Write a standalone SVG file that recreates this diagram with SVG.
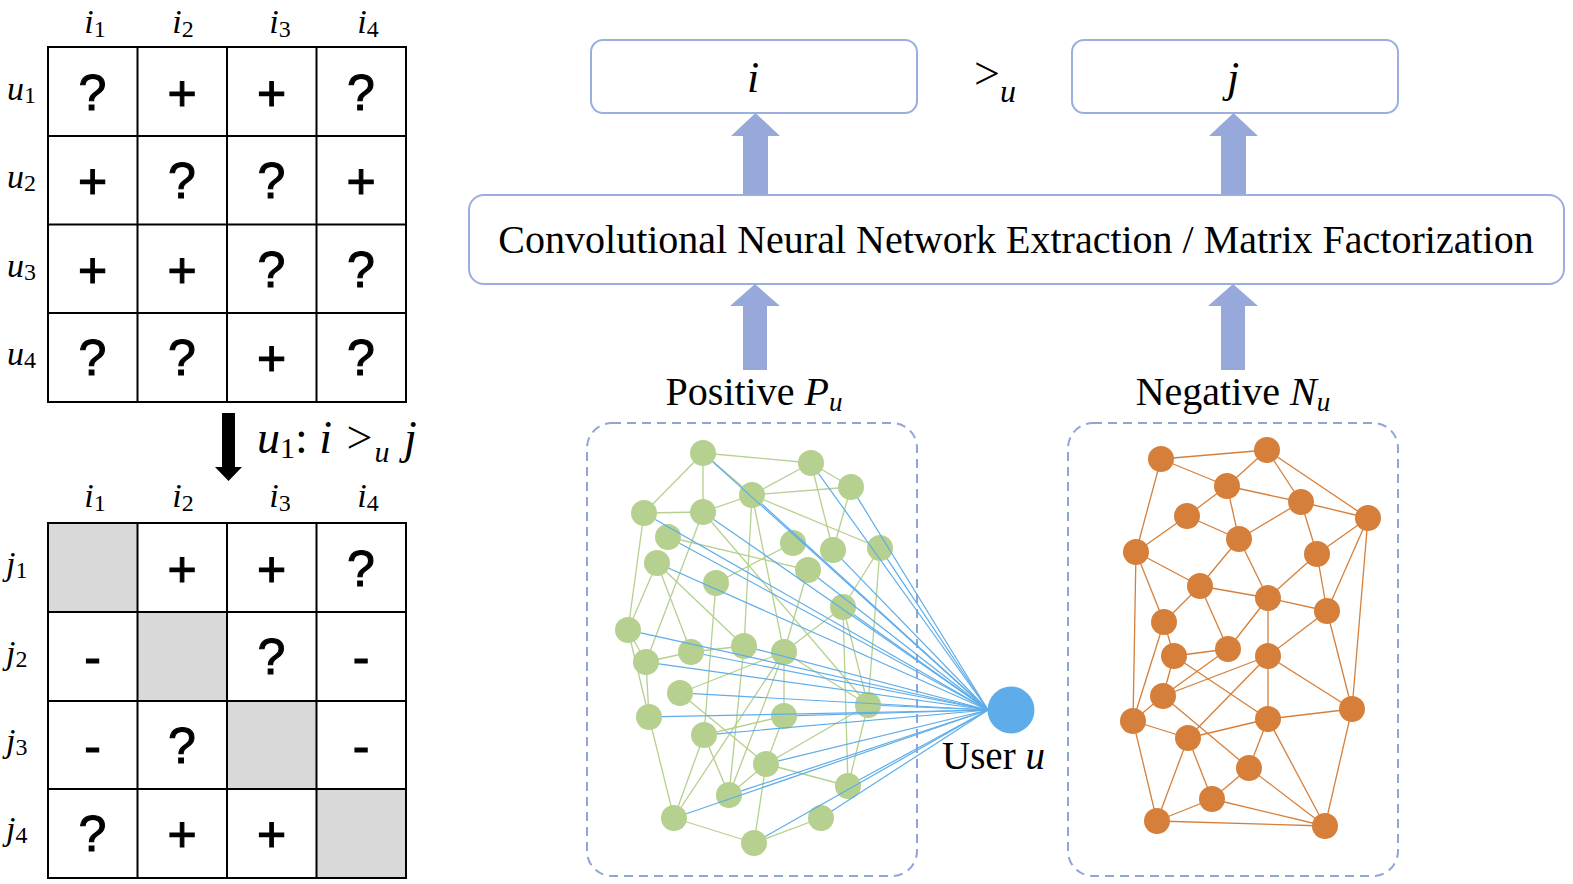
<svg xmlns="http://www.w3.org/2000/svg" width="1573" height="884" viewBox="0 0 1573 884">
<defs>
<style>
.serif{font-family:"Liberation Serif","Times New Roman",serif;fill:#000}
.it{font-style:italic}
.cell{font-family:"Liberation Sans",Arial,sans-serif;font-size:50px;text-anchor:middle;fill:#000;stroke:#000;stroke-width:1.1}
.grid{fill:none;stroke:#000;stroke-width:2}
.gray{fill:#D9D9D9}
.box{fill:#fff;stroke:#9AAEE0;stroke-width:2}
.dash{fill:none;stroke:#8FA5D8;stroke-width:2;stroke-dasharray:9 6}
.arrow{fill:#97A9DB}
.ge{stroke:#B5D08F;stroke-width:1.3}
.oe{stroke:#D67F3A;stroke-width:1.3}
.be{stroke:#5EADEA;stroke-width:1.2}
.gn{fill:#B5D08F}
.on{fill:#D67F3A}
</style>
</defs>
<rect width="1573" height="884" fill="#fff"/>

<!-- Top matrix -->
<g id="matrix-top">
<g class="serif" font-size="34">
<text x="95" y="33" text-anchor="middle"><tspan class="it">i</tspan><tspan font-size="24" dy="4">1</tspan></text>
<text x="183" y="33" text-anchor="middle"><tspan class="it">i</tspan><tspan font-size="24" dy="4">2</tspan></text>
<text x="280" y="33" text-anchor="middle"><tspan class="it">i</tspan><tspan font-size="24" dy="4">3</tspan></text>
<text x="368" y="33" text-anchor="middle"><tspan class="it">i</tspan><tspan font-size="24" dy="4">4</tspan></text>
<text x="7" y="100"><tspan class="it">u</tspan><tspan font-size="24" dy="3">1</tspan></text>
<text x="7" y="188"><tspan class="it">u</tspan><tspan font-size="24" dy="3">2</tspan></text>
<text x="7" y="277"><tspan class="it">u</tspan><tspan font-size="24" dy="3">3</tspan></text>
<text x="7" y="365"><tspan class="it">u</tspan><tspan font-size="24" dy="3">4</tspan></text>
</g>
<rect class="grid" x="48" y="47" width="358" height="355"/>
<path class="grid" d="M137.5 47V402M227 47V402M316.5 47V402M48 136H406M48 224.5H406M48 313H406"/>
<g class="cell">
<text x="92.5" y="110">?</text><text x="182" y="110">+</text><text x="271.5" y="110">+</text><text x="361" y="110">?</text>
<text x="92.5" y="198">+</text><text x="182" y="198">?</text><text x="271.5" y="198">?</text><text x="361" y="198">+</text>
<text x="92.5" y="287">+</text><text x="182" y="287">+</text><text x="271.5" y="287">?</text><text x="361" y="287">?</text>
<text x="92.5" y="375">?</text><text x="182" y="375">?</text><text x="271.5" y="375">+</text><text x="361" y="375">?</text>
</g>
</g>

<!-- Transform arrow -->
<g id="transform-arrow">
<polygon points="222,413 235,413 235,467 242,467 228.5,481 215,467 222,467" fill="#000"/>
<text class="serif" x="257" y="453" font-size="46"><tspan class="it">u</tspan><tspan font-size="30" dy="5">1</tspan><tspan dy="-5">: </tspan><tspan class="it">i</tspan><tspan dx="3"> &gt;</tspan><tspan class="it" font-size="30" dy="9" dx="2">u</tspan><tspan class="it" dy="-9" dx="3"> j</tspan></text>
</g>

<!-- Bottom matrix -->
<g id="matrix-bottom">
<g class="serif" font-size="34">
<text x="95" y="507" text-anchor="middle"><tspan class="it">i</tspan><tspan font-size="24" dy="4">1</tspan></text>
<text x="183" y="507" text-anchor="middle"><tspan class="it">i</tspan><tspan font-size="24" dy="4">2</tspan></text>
<text x="280" y="507" text-anchor="middle"><tspan class="it">i</tspan><tspan font-size="24" dy="4">3</tspan></text>
<text x="368" y="507" text-anchor="middle"><tspan class="it">i</tspan><tspan font-size="24" dy="4">4</tspan></text>
<text x="6" y="575"><tspan class="it">j</tspan><tspan font-size="24" dy="3">1</tspan></text>
<text x="6" y="664"><tspan class="it">j</tspan><tspan font-size="24" dy="3">2</tspan></text>
<text x="6" y="752"><tspan class="it">j</tspan><tspan font-size="24" dy="3">3</tspan></text>
<text x="6" y="840"><tspan class="it">j</tspan><tspan font-size="24" dy="3">4</tspan></text>
</g>
<rect class="gray" x="48" y="523" width="89.5" height="89"/>
<rect class="gray" x="137.5" y="612" width="89.5" height="89"/>
<rect class="gray" x="227" y="701" width="89.5" height="88"/>
<rect class="gray" x="316.5" y="789" width="89.5" height="89"/>
<rect class="grid" x="48" y="523" width="358" height="355"/>
<path class="grid" d="M137.5 523V878M227 523V878M316.5 523V878M48 612H406M48 701H406M48 789H406"/>
<g class="cell">
<text x="182" y="586">+</text><text x="271.5" y="586">+</text><text x="361" y="586">?</text>
<text x="92.5" y="674">-</text><text x="271.5" y="674">?</text><text x="361" y="674">-</text>
<text x="92.5" y="763">-</text><text x="182" y="763">?</text><text x="361" y="763">-</text>
<text x="92.5" y="851">?</text><text x="182" y="851">+</text><text x="271.5" y="851">+</text>
</g>
</g>

<!-- Top boxes -->
<g id="box-i">
<rect class="box" x="591" y="40" width="326" height="73" rx="12"/>
<text class="serif it" x="753" y="92" font-size="44" text-anchor="middle">i</text>
</g>
<g id="pref-symbol">
<text class="serif" x="974" y="89" font-size="46">&gt;<tspan class="it" font-size="32" dy="13">u</tspan></text>
</g>
<g id="box-j">
<rect class="box" x="1072" y="40" width="326" height="73" rx="12"/>
<text class="serif it" x="1233" y="92" font-size="44" text-anchor="middle">j</text>
</g>

<g id="box-cnn">
<rect class="box" x="469" y="195" width="1095" height="89" rx="15"/>
<text class="serif" x="1016" y="253" font-size="40" text-anchor="middle">Convolutional Neural Network Extraction / Matrix Factorization</text>
</g>

<!-- Fat arrows -->
<g id="arrows">
<polygon class="arrow" points="743,194 768,194 768,136 780,136 755.5,113 731,136 743,136"/>
<polygon class="arrow" points="1221,194 1246,194 1246,136 1258,136 1233.5,113 1209,136 1221,136"/>
<polygon class="arrow" points="743,370 767,370 767,306 780,306 755,284 730,306 743,306"/>
<polygon class="arrow" points="1221,370 1245,370 1245,306 1258,306 1233,284 1208,306 1221,306"/>
</g>

<g id="label-positive">
<text class="serif" x="754" y="405" font-size="40" text-anchor="middle">Positive <tspan class="it">P</tspan><tspan class="it" font-size="27" dy="6">u</tspan></text>
</g>
<g id="label-negative">
<text class="serif" x="1233" y="405" font-size="40" text-anchor="middle">Negative <tspan class="it">N</tspan><tspan class="it" font-size="27" dy="6">u</tspan></text>
</g>

<!-- Dashed containers -->
<g id="positive-set">
<rect class="dash" x="587" y="423" width="330" height="453" rx="25"/>
</g>
<g id="negative-set">
<rect class="dash" x="1068" y="423" width="330" height="453" rx="25"/>
</g>

<!-- Graph edges -->
<g id="connectors">
<g class="ge">
<line x1="703" y1="453" x2="811" y2="463"/>
<line x1="703" y1="453" x2="644" y2="513"/>
<line x1="703" y1="453" x2="703" y2="512"/>
<line x1="703" y1="453" x2="752" y2="495"/>
<line x1="811" y1="463" x2="752" y2="495"/>
<line x1="811" y1="463" x2="833" y2="550"/>
<line x1="811" y1="463" x2="851" y2="487"/>
<line x1="851" y1="487" x2="752" y2="495"/>
<line x1="851" y1="487" x2="833" y2="550"/>
<line x1="752" y1="495" x2="703" y2="512"/>
<line x1="752" y1="495" x2="880" y2="548"/>
<line x1="752" y1="495" x2="744" y2="646"/>
<line x1="752" y1="495" x2="784" y2="652"/>
<line x1="644" y1="513" x2="703" y2="512"/>
<line x1="644" y1="513" x2="628" y2="630"/>
<line x1="703" y1="512" x2="646" y2="662"/>
<line x1="703" y1="512" x2="868" y2="705"/>
<line x1="668" y1="537" x2="808" y2="570"/>
<line x1="657" y1="563" x2="628" y2="630"/>
<line x1="657" y1="563" x2="691" y2="652"/>
<line x1="657" y1="563" x2="744" y2="646"/>
<line x1="716" y1="583" x2="793" y2="543"/>
<line x1="716" y1="583" x2="704" y2="735"/>
<line x1="808" y1="570" x2="784" y2="652"/>
<line x1="843" y1="607" x2="784" y2="652"/>
<line x1="843" y1="607" x2="848" y2="786"/>
<line x1="843" y1="607" x2="868" y2="705"/>
<line x1="880" y1="548" x2="843" y2="607"/>
<line x1="880" y1="548" x2="868" y2="705"/>
<line x1="628" y1="630" x2="646" y2="662"/>
<line x1="628" y1="630" x2="649" y2="717"/>
<line x1="646" y1="662" x2="649" y2="717"/>
<line x1="646" y1="662" x2="691" y2="652"/>
<line x1="691" y1="652" x2="744" y2="646"/>
<line x1="744" y1="646" x2="729" y2="795"/>
<line x1="784" y1="652" x2="784" y2="716"/>
<line x1="784" y1="652" x2="868" y2="705"/>
<line x1="784" y1="652" x2="674" y2="818"/>
<line x1="784" y1="652" x2="729" y2="795"/>
<line x1="680" y1="693" x2="784" y2="652"/>
<line x1="680" y1="693" x2="766" y2="764"/>
<line x1="649" y1="717" x2="674" y2="818"/>
<line x1="784" y1="716" x2="704" y2="735"/>
<line x1="784" y1="716" x2="766" y2="764"/>
<line x1="868" y1="705" x2="766" y2="764"/>
<line x1="704" y1="735" x2="674" y2="818"/>
<line x1="704" y1="735" x2="729" y2="795"/>
<line x1="766" y1="764" x2="729" y2="795"/>
<line x1="766" y1="764" x2="848" y2="786"/>
<line x1="766" y1="764" x2="754" y2="843"/>
<line x1="848" y1="786" x2="868" y2="705"/>
<line x1="674" y1="818" x2="754" y2="843"/>
<line x1="754" y1="843" x2="821" y2="818"/>
</g>
<g class="oe">
<line x1="1161" y1="459" x2="1267" y2="450"/>
<line x1="1161" y1="459" x2="1227" y2="486"/>
<line x1="1161" y1="459" x2="1136" y2="552"/>
<line x1="1227" y1="486" x2="1267" y2="450"/>
<line x1="1267" y1="450" x2="1301" y2="502"/>
<line x1="1267" y1="450" x2="1368" y2="518"/>
<line x1="1227" y1="486" x2="1301" y2="502"/>
<line x1="1227" y1="486" x2="1187" y2="516"/>
<line x1="1227" y1="486" x2="1239" y2="539"/>
<line x1="1301" y1="502" x2="1368" y2="518"/>
<line x1="1301" y1="502" x2="1239" y2="539"/>
<line x1="1301" y1="502" x2="1317" y2="554"/>
<line x1="1187" y1="516" x2="1136" y2="552"/>
<line x1="1187" y1="516" x2="1239" y2="539"/>
<line x1="1368" y1="518" x2="1317" y2="554"/>
<line x1="1368" y1="518" x2="1327" y2="611"/>
<line x1="1368" y1="518" x2="1352" y2="709"/>
<line x1="1239" y1="539" x2="1200" y2="586"/>
<line x1="1239" y1="539" x2="1268" y2="598"/>
<line x1="1136" y1="552" x2="1200" y2="586"/>
<line x1="1136" y1="552" x2="1164" y2="622"/>
<line x1="1136" y1="552" x2="1133" y2="721"/>
<line x1="1317" y1="554" x2="1268" y2="598"/>
<line x1="1317" y1="554" x2="1327" y2="611"/>
<line x1="1200" y1="586" x2="1268" y2="598"/>
<line x1="1200" y1="586" x2="1164" y2="622"/>
<line x1="1200" y1="586" x2="1228" y2="649"/>
<line x1="1268" y1="598" x2="1327" y2="611"/>
<line x1="1268" y1="598" x2="1228" y2="649"/>
<line x1="1268" y1="598" x2="1268" y2="656"/>
<line x1="1327" y1="611" x2="1268" y2="656"/>
<line x1="1327" y1="611" x2="1352" y2="709"/>
<line x1="1164" y1="622" x2="1174" y2="656"/>
<line x1="1164" y1="622" x2="1133" y2="721"/>
<line x1="1228" y1="649" x2="1174" y2="656"/>
<line x1="1228" y1="649" x2="1163" y2="696"/>
<line x1="1174" y1="656" x2="1163" y2="696"/>
<line x1="1174" y1="656" x2="1268" y2="719"/>
<line x1="1268" y1="656" x2="1163" y2="696"/>
<line x1="1268" y1="656" x2="1268" y2="719"/>
<line x1="1268" y1="656" x2="1352" y2="709"/>
<line x1="1268" y1="656" x2="1188" y2="738"/>
<line x1="1163" y1="696" x2="1133" y2="721"/>
<line x1="1163" y1="696" x2="1249" y2="768"/>
<line x1="1133" y1="721" x2="1188" y2="738"/>
<line x1="1133" y1="721" x2="1157" y2="821"/>
<line x1="1268" y1="719" x2="1352" y2="709"/>
<line x1="1268" y1="719" x2="1188" y2="738"/>
<line x1="1268" y1="719" x2="1249" y2="768"/>
<line x1="1268" y1="719" x2="1325" y2="826"/>
<line x1="1352" y1="709" x2="1325" y2="826"/>
<line x1="1188" y1="738" x2="1212" y2="799"/>
<line x1="1188" y1="738" x2="1157" y2="821"/>
<line x1="1249" y1="768" x2="1212" y2="799"/>
<line x1="1249" y1="768" x2="1325" y2="826"/>
<line x1="1212" y1="799" x2="1325" y2="826"/>
<line x1="1212" y1="799" x2="1157" y2="821"/>
<line x1="1157" y1="821" x2="1325" y2="826"/>
</g>
</g>

<!-- Positive (green) nodes -->
<g id="positive-nodes" class="gn">
<circle cx="703" cy="453" r="13"/><circle cx="811" cy="463" r="13"/><circle cx="851" cy="487" r="13"/>
<circle cx="752" cy="495" r="13"/><circle cx="644" cy="513" r="13"/><circle cx="703" cy="512" r="13"/>
<circle cx="668" cy="537" r="13"/><circle cx="793" cy="543" r="13"/><circle cx="833" cy="550" r="13"/>
<circle cx="880" cy="548" r="13"/><circle cx="657" cy="563" r="13"/><circle cx="808" cy="570" r="13"/>
<circle cx="716" cy="583" r="13"/><circle cx="843" cy="607" r="13"/><circle cx="628" cy="630" r="13"/>
<circle cx="744" cy="646" r="13"/><circle cx="646" cy="662" r="13"/><circle cx="691" cy="652" r="13"/>
<circle cx="784" cy="652" r="13"/><circle cx="680" cy="693" r="13"/><circle cx="649" cy="717" r="13"/>
<circle cx="784" cy="716" r="13"/><circle cx="868" cy="705" r="13"/><circle cx="704" cy="735" r="13"/>
<circle cx="766" cy="764" r="13"/><circle cx="729" cy="795" r="13"/><circle cx="848" cy="786" r="13"/>
<circle cx="674" cy="818" r="13"/><circle cx="821" cy="818" r="13"/><circle cx="754" cy="843" r="13"/>
</g>

<!-- Negative (orange) nodes -->
<g id="negative-nodes" class="on">
<circle cx="1161" cy="459" r="13"/><circle cx="1267" cy="450" r="13"/><circle cx="1227" cy="486" r="13"/>
<circle cx="1301" cy="502" r="13"/><circle cx="1368" cy="518" r="13"/><circle cx="1187" cy="516" r="13"/>
<circle cx="1239" cy="539" r="13"/><circle cx="1136" cy="552" r="13"/><circle cx="1317" cy="554" r="13"/>
<circle cx="1200" cy="586" r="13"/><circle cx="1268" cy="598" r="13"/><circle cx="1327" cy="611" r="13"/>
<circle cx="1164" cy="622" r="13"/><circle cx="1228" cy="649" r="13"/><circle cx="1174" cy="656" r="13"/>
<circle cx="1268" cy="656" r="13"/><circle cx="1163" cy="696" r="13"/><circle cx="1133" cy="721" r="13"/>
<circle cx="1268" cy="719" r="13"/><circle cx="1352" cy="709" r="13"/><circle cx="1188" cy="738" r="13"/>
<circle cx="1249" cy="768" r="13"/><circle cx="1212" cy="799" r="13"/><circle cx="1157" cy="821" r="13"/>
<circle cx="1325" cy="826" r="13"/>
</g>

<!-- User links -->
<g id="user-links" class="be">
<line x1="712.7" y1="461.7" x2="988" y2="710"/>
<line x1="818.6" y1="473.6" x2="988" y2="710"/>
<line x1="857.8" y1="498.1" x2="988" y2="710"/>
<line x1="761.6" y1="503.8" x2="988" y2="710"/>
<line x1="655.3" y1="519.5" x2="988" y2="710"/>
<line x1="713.7" y1="519.4" x2="988" y2="710"/>
<line x1="679.4" y1="543.2" x2="988" y2="710"/>
<line x1="842" y1="559.3" x2="988" y2="710"/>
<line x1="887.2" y1="558.8" x2="988" y2="710"/>
<line x1="668.9" y1="568.3" x2="988" y2="710"/>
<line x1="818.3" y1="578" x2="988" y2="710"/>
<line x1="853.6" y1="614.5" x2="988" y2="710"/>
<line x1="640.7" y1="632.8" x2="988" y2="710"/>
<line x1="756.6" y1="649.3" x2="988" y2="710"/>
<line x1="658.9" y1="663.8" x2="988" y2="710"/>
<line x1="703.8" y1="654.5" x2="988" y2="710"/>
<line x1="693" y1="693.7" x2="988" y2="710"/>
<line x1="662" y1="716.7" x2="988" y2="710"/>
<line x1="797" y1="715.6" x2="988" y2="710"/>
<line x1="881" y1="705.5" x2="988" y2="710"/>
<line x1="717" y1="733.9" x2="988" y2="710"/>
<line x1="778.6" y1="760.9" x2="988" y2="710"/>
<line x1="741.4" y1="790.9" x2="988" y2="710"/>
<line x1="859.4" y1="779.8" x2="988" y2="710"/>
<line x1="686.3" y1="813.8" x2="988" y2="710"/>
<line x1="831.9" y1="810.9" x2="988" y2="710"/>
<line x1="765.3" y1="836.6" x2="988" y2="710"/>
</g>

<g id="user">
<circle cx="1011" cy="710" r="23.5" fill="#5EADEA"/>
<text class="serif" x="942" y="769" font-size="39">User <tspan class="it">u</tspan></text>
</g>
</svg>
